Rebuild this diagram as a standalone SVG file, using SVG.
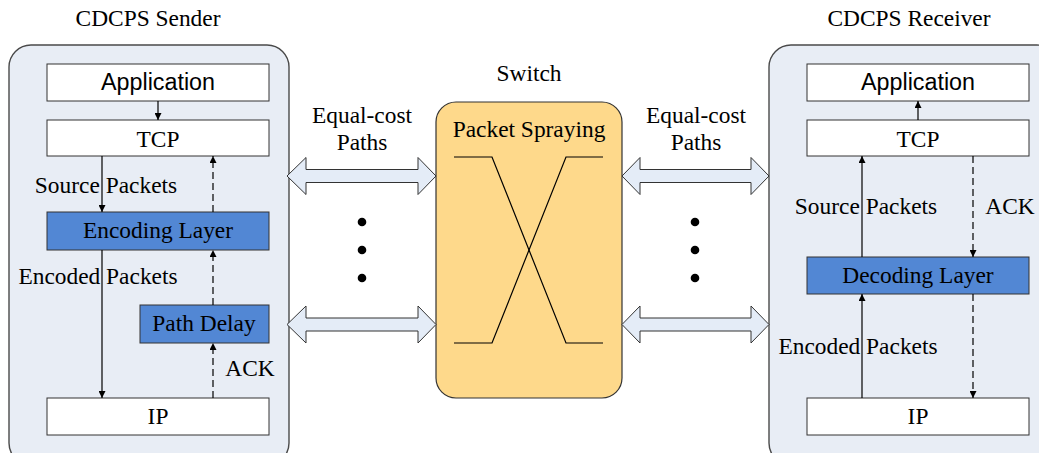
<svg xmlns="http://www.w3.org/2000/svg" width="1039" height="453" viewBox="0 0 1039 453">
  <style>
    .serif { font-family: "Liberation Serif", "Times New Roman", serif; font-size: 23.4px; fill: #000; }
    .sans { font-family: "Liberation Sans", Arial, sans-serif; font-size: 23.3px; fill: #000; }
    .host { fill: #E8EDF5; stroke: #4A4A4A; stroke-width: 1.4; }
    .white { fill: #FFFFFF; stroke: #333; stroke-width: 1; }
    .blue { fill: #5287D4; stroke: #333; stroke-width: 1; }
    .switch { fill: #FED98B; stroke: #333; stroke-width: 1.2; }
    .link { fill: #E4ECF7; stroke: #333; stroke-width: 1; }
    .solid { fill: none; stroke: #000; stroke-width: 1.2; marker-end: url(#head); }
    .dash { fill: none; stroke: #000; stroke-width: 1.2; stroke-dasharray: 7 4; marker-end: url(#head); }
    .wire { fill: none; stroke: #000; stroke-width: 1.2; }
  </style>
  <defs>
    <marker id="head" viewBox="0 0 10 10" refX="10" refY="5" markerWidth="8" markerHeight="7" markerUnits="userSpaceOnUse" orient="auto">
      <path d="M0,0 L10,5 L0,10 z" fill="#000"/>
    </marker>
  </defs>

  <!-- Sender host -->
  <g id="sender">
    <rect class="host" x="9" y="45" width="280" height="420" rx="22"/>
    <text class="serif" x="148" y="26" text-anchor="middle">CDCPS Sender</text>
  </g>
  <g id="sender-app">
    <rect class="white" x="47" y="64" width="222" height="37"/>
    <text class="sans" x="158" y="90" text-anchor="middle">Application</text>
  </g>
  <g id="sender-tcp">
    <rect class="white" x="47" y="120" width="222" height="36"/>
    <text class="serif" x="158" y="147" text-anchor="middle">TCP</text>
  </g>
  <g id="sender-encoding">
    <rect class="blue" x="47" y="212" width="222" height="38"/>
    <text class="serif" x="158" y="238" text-anchor="middle">Encoding Layer</text>
  </g>
  <g id="sender-pathdelay">
    <rect class="blue" x="140" y="305" width="129" height="38"/>
    <text class="serif" x="204" y="331" text-anchor="middle">Path Delay</text>
  </g>
  <g id="sender-ip">
    <rect class="white" x="47" y="398" width="222" height="37"/>
    <text class="serif" x="158" y="424" text-anchor="middle">IP</text>
  </g>

  <!-- Switch -->
  <g id="switch">
    <text class="serif" x="529" y="81" text-anchor="middle">Switch</text>
    <rect class="switch" x="436" y="102" width="186" height="296" rx="20"/>
    <text class="serif" x="529" y="137" text-anchor="middle">Packet Spraying</text>
    <polyline class="wire" points="454,157 492,157 566,343 603,343"/>
    <polyline class="wire" points="454,343 492,343 566,157 603,157"/>
  </g>

  <!-- Receiver host -->
  <g id="receiver">
    <rect class="host" x="769" y="45" width="290" height="420" rx="22"/>
    <text class="serif" x="909" y="26" text-anchor="middle">CDCPS Receiver</text>
  </g>
  <g id="receiver-app">
    <rect class="white" x="807" y="64" width="222" height="37"/>
    <text class="sans" x="918" y="90" text-anchor="middle">Application</text>
  </g>
  <g id="receiver-tcp">
    <rect class="white" x="807" y="120" width="222" height="36"/>
    <text class="serif" x="918" y="147" text-anchor="middle">TCP</text>
  </g>
  <g id="receiver-decoding">
    <rect class="blue" x="807" y="257" width="222" height="37"/>
    <text class="serif" x="918" y="283" text-anchor="middle">Decoding Layer</text>
  </g>
  <g id="receiver-ip">
    <rect class="white" x="807" y="398" width="222" height="37"/>
    <text class="serif" x="918" y="424" text-anchor="middle">IP</text>
  </g>

  <!-- Connectors -->
  <g id="connectors">
    <!-- sender stack -->
    <line class="solid" x1="158" y1="101" x2="158" y2="120"/>
    <line class="solid" x1="102" y1="156" x2="102" y2="212"/>
    <line class="dash" x1="213" y1="212" x2="213" y2="156"/>
    <line class="solid" x1="102" y1="250" x2="102" y2="398"/>
    <line class="dash" x1="213" y1="305" x2="213" y2="250"/>
    <line class="dash" x1="213" y1="398" x2="213" y2="343"/>
    <text class="serif" x="106" y="193" text-anchor="middle">Source Packets</text>
    <text class="serif" x="98" y="284" text-anchor="middle">Encoded Packets</text>
    <text class="serif" x="250" y="376" text-anchor="middle">ACK</text>

    <!-- receiver stack -->
    <line class="solid" x1="918" y1="120" x2="918" y2="101"/>
    <line class="solid" x1="862" y1="257" x2="862" y2="156"/>
    <line class="dash" x1="973" y1="156" x2="973" y2="257"/>
    <line class="solid" x1="862" y1="398" x2="862" y2="294"/>
    <line class="dash" x1="973" y1="294" x2="973" y2="398"/>
    <text class="serif" x="866" y="214" text-anchor="middle">Source Packets</text>
    <text class="serif" x="1010" y="214" text-anchor="middle">ACK</text>
    <text class="serif" x="858" y="354" text-anchor="middle">Encoded Packets</text>

    <!-- equal-cost paths, sender side -->
    <polygon class="link" points="287,176 306,157.5 306,169.5 418,169.5 418,157.5 436,176 418,194.5 418,182.5 306,182.5 306,194.5"/>
    <polygon class="link" points="287,324.5 306,306 306,318 418,318 418,306 436,324.5 418,343 418,331 306,331 306,343"/>
    <text class="serif" x="362" y="123" text-anchor="middle">Equal-cost</text>
    <text class="serif" x="362" y="150" text-anchor="middle">Paths</text>
    <circle cx="362" cy="222" r="4.3"/>
    <circle cx="362" cy="250" r="4.3"/>
    <circle cx="362" cy="278" r="4.3"/>

    <!-- equal-cost paths, receiver side -->
    <polygon class="link" points="622,176 640,157.5 640,169.5 751,169.5 751,157.5 769,176 751,194.5 751,182.5 640,182.5 640,194.5"/>
    <polygon class="link" points="622,324.5 640,306 640,318 751,318 751,306 769,324.5 751,343 751,331 640,331 640,343"/>
    <text class="serif" x="696" y="123" text-anchor="middle">Equal-cost</text>
    <text class="serif" x="696" y="150" text-anchor="middle">Paths</text>
    <circle cx="695" cy="222" r="4.3"/>
    <circle cx="695" cy="250" r="4.3"/>
    <circle cx="695" cy="278" r="4.3"/>
  </g>
</svg>
